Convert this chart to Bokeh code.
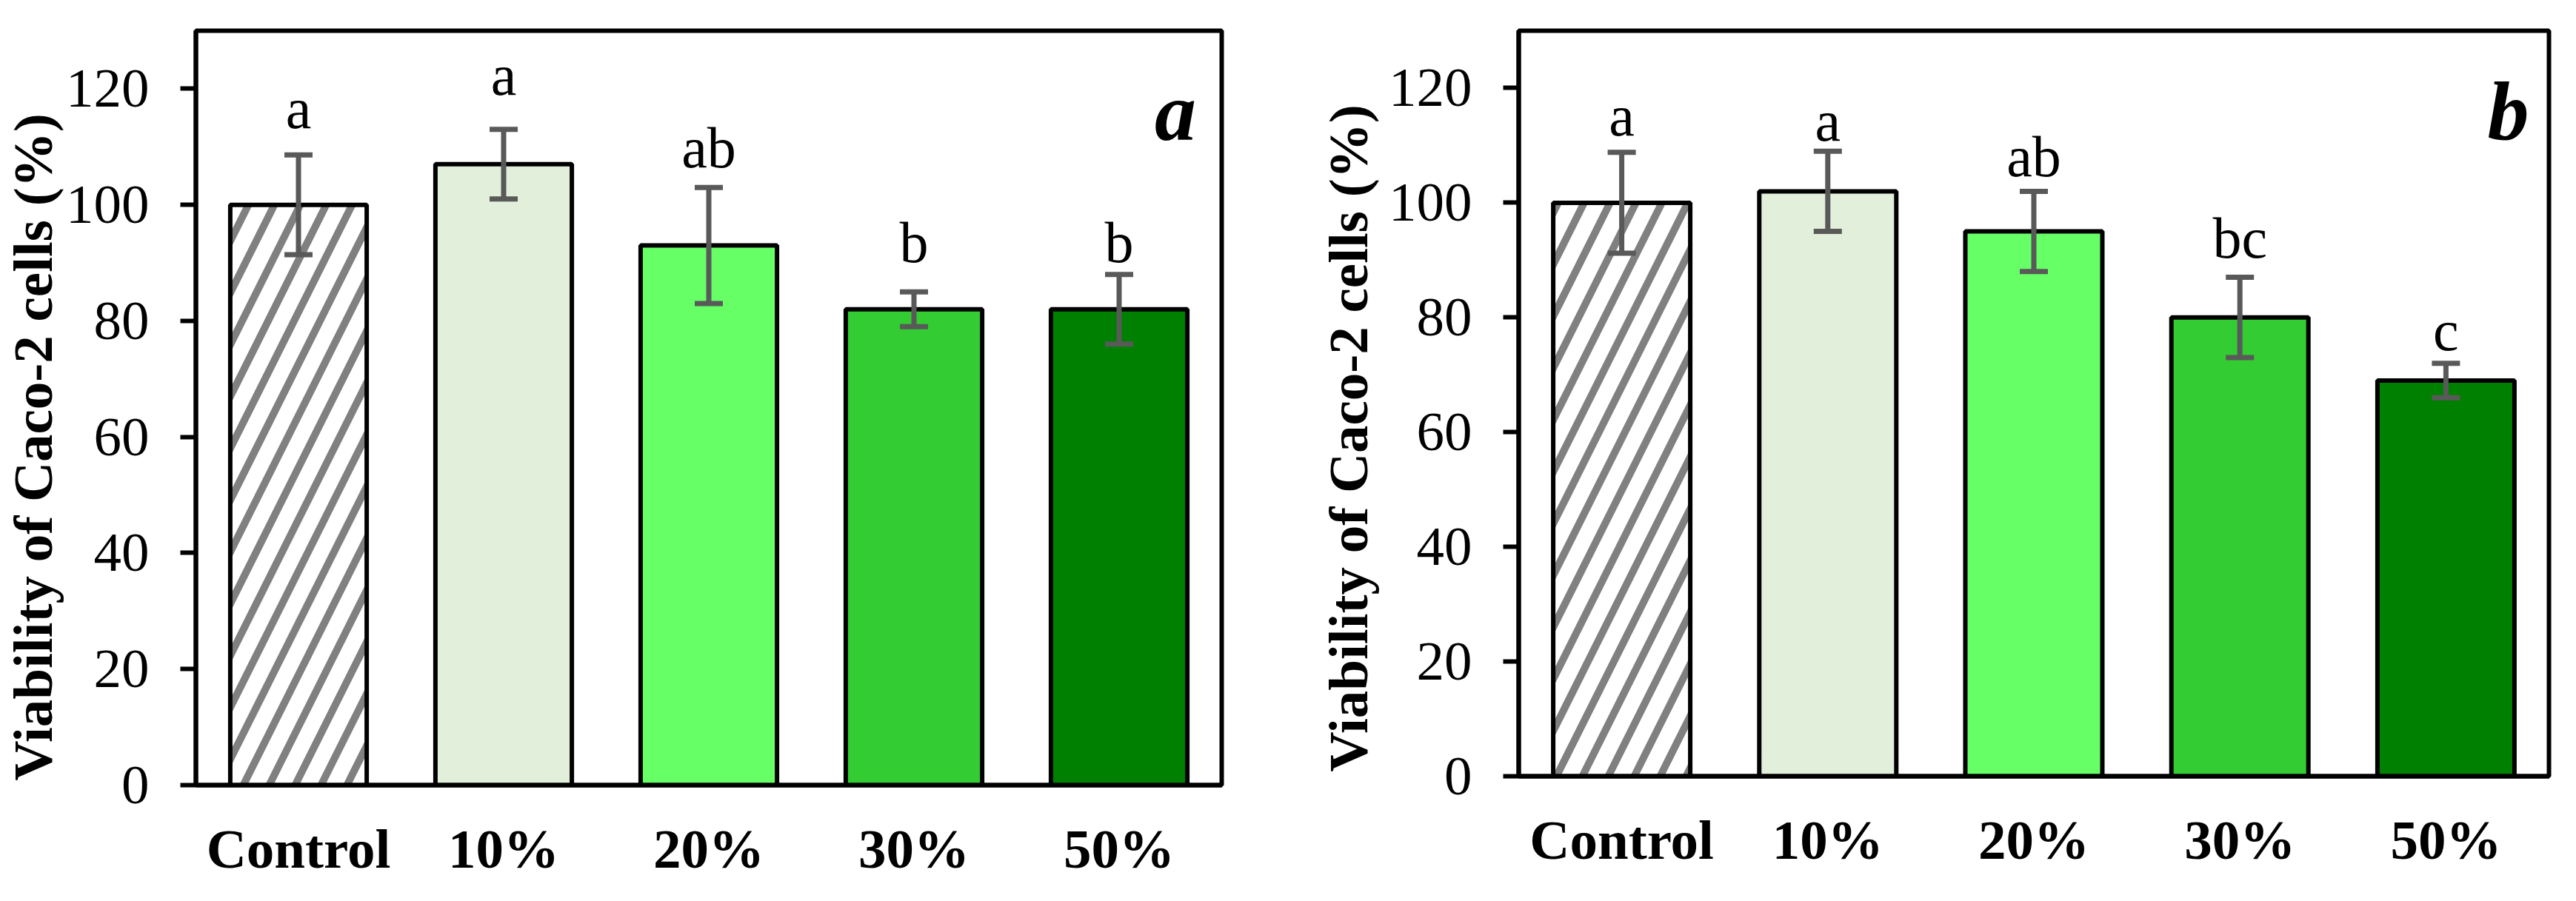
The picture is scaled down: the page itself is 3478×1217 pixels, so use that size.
from bokeh.plotting import figure
from bokeh.models import (ColumnDataSource, FactorRange, Range1d, SingleIntervalTicker,
                          Whisker, TeeHead, Title)
from bokeh.layouts import row
from bokeh.core.properties import value, field
from bokeh.embed import file_html
from bokeh.resources import INLINE

groups = ["Control", "10%", "20%", "30%", "50%"]
bar_colors = ["#FFFFFF", "#E2EFDA", "#66FF66", "#33CC33", "#008000"]

# panel a
mean_a = [100, 107, 93, 82, 82]
sd_a = [8.6, 6, 10, 3, 6]
sig_a = ["a", "a", "ab", "b", "b"]
sig_y_a = [116.6, 122.3, 109.8, 93.5, 93.5]

# panel b
mean_b = [100, 102, 95, 80, 69]
sd_b = [8.8, 7, 7, 7, 3]
sig_b = ["a", "a", "ab", "bc", "c"]
sig_y_b = [115.2, 114.2, 108.1, 93.8, 77.7]

SERIF = "Liberation Serif"
ERR = "#595959"
YLABEL = "Viability of Caco-2 cells (%)"


def make_panel(means, sds, sig, sig_y, tag, tag_dx, fw, fh, bl, br, bt, bb, title_gap):
    src = ColumnDataSource(dict(
        x=groups, top=means, color=bar_colors,
        hatch=["/" if g == "Control" else " " for g in groups],
        upper=[m + s for m, s in zip(means, sds)],
        lower=[m - s for m, s in zip(means, sds)],
        sig=sig, sy=sig_y,
    ))
    p = figure(x_range=FactorRange(*groups, range_padding=0), y_range=Range1d(0, 130),
               frame_width=fw, frame_height=fh,
               min_border_left=bl, min_border_right=br, min_border_top=bt, min_border_bottom=bb,
               output_backend="svg", toolbar_location=None)
    p.background_fill_color = "white"
    p.border_fill_color = "white"
    p.xgrid.grid_line_color = None
    p.ygrid.grid_line_color = None
    p.outline_line_color = "black"
    p.outline_line_width = 6
    p.outline_line_alpha = 1

    p.vbar(x="x", top="top", width=0.665, source=src, fill_color="color",
           line_color="black", line_width=6, hatch_pattern=field("hatch"),
           hatch_color="#808080", hatch_weight=10, hatch_scale=70)

    w = Whisker(base="x", upper="upper", lower="lower", source=src, level="annotation",
                line_color=ERR, line_width=7)
    w.upper_head = TeeHead(size=38, line_color=ERR, line_width=7)
    w.lower_head = TeeHead(size=38, line_color=ERR, line_width=7)
    p.add_layout(w)

    # significance letters
    p.text(x="x", y="sy", text="sig", source=src, text_align="center",
           text_baseline="alphabetic", text_font=value(SERIF), text_font_size="78px",
           text_color="black")
    # panel tag
    p.text(x=[groups[-1]], y=[116], text=[tag], x_offset=tag_dx, text_align="right",
           text_baseline="alphabetic", text_font=value(SERIF), text_font_style="bold italic",
           text_font_size="112px", text_color="black")

    p.yaxis.ticker = SingleIntervalTicker(interval=20, num_minor_ticks=0)
    p.yaxis.axis_line_width = 6
    p.yaxis.major_tick_line_width = 6
    p.yaxis.major_tick_out = 21
    p.yaxis.major_tick_in = 0
    p.yaxis.minor_tick_line_color = None
    p.yaxis.major_label_text_font = SERIF
    p.yaxis.major_label_text_font_size = "75px"
    p.yaxis.major_label_text_color = "black"
    p.yaxis.major_label_standoff = 42

    p.xaxis.axis_line_width = 6
    p.xaxis.major_tick_line_color = None
    p.xaxis.major_tick_out = 0
    p.xaxis.major_tick_in = 0
    p.xaxis.major_label_text_font = SERIF
    p.xaxis.major_label_text_font_style = "bold"
    p.xaxis.major_label_text_font_size = "75px"
    p.xaxis.major_label_text_color = "black"
    p.xaxis.major_label_standoff = 44

    # y label starts at the bottom of the axis, as in the original
    p.add_layout(Title(text=YLABEL, align="left", offset=6, text_font=SERIF,
                       text_font_style="bold", text_font_size="75px", text_color="black",
                       standoff=title_gap), "left")
    return p


pa = make_panel(mean_a, sd_a, sig_a, sig_y_a, "a", 104, 1385, 1019, 262, 118, 35, 146, 0)
pb = make_panel(mean_b, sd_b, sig_b, sig_y_b, "b", 112, 1391, 1007, 282, 24, 41, 152, 19)

open("out.html", "w").write(file_html(row(pa, pb), INLINE))
